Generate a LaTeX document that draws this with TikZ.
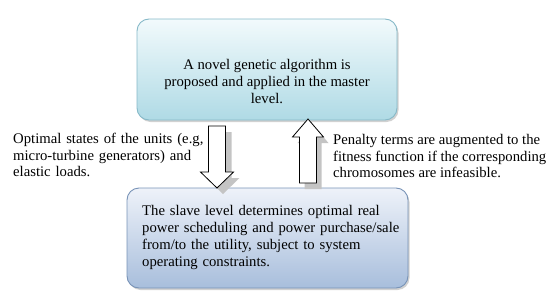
\documentclass[tikz,border=0pt]{standalone}
\usepackage{fontspec}
\setmainfont{Liberation Serif}
\usetikzlibrary{shadows}
\definecolor{topA}{HTML}{F2FAFC}
\definecolor{topB}{HTML}{AFDAE5}
\definecolor{topE}{HTML}{86B9C8}
\definecolor{botA}{HTML}{EEF2F9}
\definecolor{botB}{HTML}{A8BEDC}
\definecolor{botE}{HTML}{7893B7}
\definecolor{shd}{HTML}{C4C4C4}
\newcommand\jline[2]{\noindent\hbox to #1{#2}}
\tikzset{
  box/.style={rounded corners=12pt, line width=0.9pt, inner sep=0pt,
    drop shadow={shadow xshift=1.5pt, shadow yshift=-2pt, opacity=0.3, fill=black!60}},
  txt/.style={inner sep=0pt, font=\fontsize{14.7}{16.7}\selectfont},
  blockarrow/.style={draw=black, fill=white, line width=0.8pt, line join=miter},
  arrowshadow/.style={fill=shd, draw=none}
}
\begin{document}
\begin{tikzpicture}[x=1pt,y=-1pt]
\useasboundingbox (0,0) rectangle (550,303);
% boxes
\node[box, draw=topE, top color=topA, bottom color=topB,
      minimum width=260pt, minimum height=101pt] (master) at (267,69.5) {};
\node[box, draw=botE, top color=botA, bottom color=botB,
      minimum width=281pt, minimum height=100pt] (slave) at (267.5,238) {};
% box texts
\node[txt, anchor=north, align=center] (mastertext) at (267,59.5)
  {A novel genetic algorithm is\\proposed and applied in the master\\level.};
\node[txt, anchor=north west, align=left, text width=254pt] (slavetext) at (142,205.5)
  {\jline{254pt}{The slave level determines optimal real}\\
   \jline{254pt}{power scheduling and power purchase/sale}\\
   \jline{254pt}{from/to the utility, subject to system}\\
   operating constraints.};
% side texts
\node[txt, anchor=north west, align=left, text width=187pt] (lefttext) at (13,133)
  {\jline{187pt}{Optimal states of the units (e.g,}\\
   \jline{187pt}{micro-turbine generators) and}\\
   elastic loads.};
\node[txt, anchor=north west, align=left] (righttext) at (333,134)
  {Penalty terms are augmented to the\\fitness function if the corresponding\\chromosomes are infeasible.};
% down arrow (master -> slave)
\begin{scope}[shift={(6,6)}]
\path[arrowshadow] (208.5,126) -- (225.5,126) -- (225.5,172) -- (233.5,172) -- (217,188) -- (200.5,172) -- (208.5,172) -- cycle;
\end{scope}
\path[blockarrow] (208.5,126) -- (225.5,126) -- (225.5,172) -- (233.5,172) -- (217,188) coordinate (downtip) -- (200.5,172) -- (208.5,172) -- cycle;
% up arrow (slave -> master)
\begin{scope}[shift={(5,6)}]
\path[arrowshadow] (299.5,183) -- (316.5,183) -- (316.5,137) -- (323.5,137) -- (308,119) -- (292.5,137) -- (299.5,137) -- cycle;
\end{scope}
\path[blockarrow] (299.5,183) -- (316.5,183) -- (316.5,137) -- (323.5,137) -- (308,119) coordinate (uptip) -- (292.5,137) -- (299.5,137) -- cycle;
\end{tikzpicture}
\end{document}
